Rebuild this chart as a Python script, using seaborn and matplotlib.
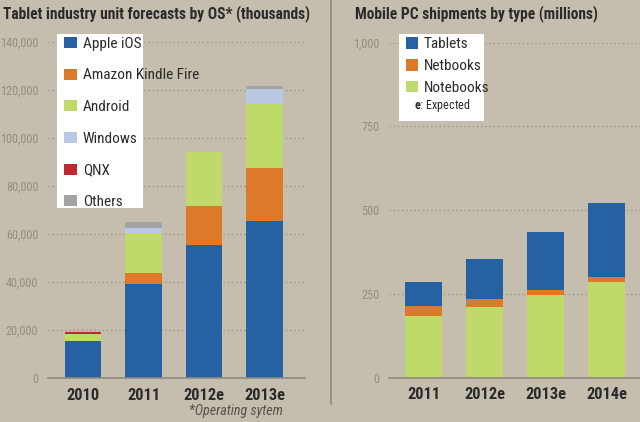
import matplotlib
matplotlib.use("Agg")
import matplotlib.pyplot as plt
import seaborn as sns
import numpy as np
from matplotlib.patches import Patch, Rectangle
from matplotlib.lines import Line2D
from matplotlib.ticker import FuncFormatter, FixedLocator
from matplotlib.font_manager import FontProperties, findfont
from matplotlib.textpath import TextPath

# ---------------- data ----------------
os_years = ["2010", "2011", "2012e", "2013e"]
os_series = ["Apple iOS", "Amazon Kindle Fire", "Android", "Windows", "QNX", "Others"]
apple_ios = [15400, 39000, 55400, 65300]
kindle_fire = [0, 4600, 16400, 22100]
android = [2900, 16800, 22400, 26900]
windows = [0, 2100, 0, 6000]
qnx = [800, 0, 0, 0]
others = [0, 2500, 0, 1500]
os_ticks = [0, 20000, 40000, 60000, 80000, 100000, 120000, 140000]

pc_years = ["2011", "2012e", "2013e", "2014e"]
pc_series = ["Tablets", "Netbooks", "Notebooks"]
notebooks = [183, 211, 247, 285]
netbooks = [30, 25, 15, 15]
tablets = [72, 117, 172, 222]
pc_ticks = [0, 250, 500, 750, 1000]

# ---------------- style ----------------
BG = "#c5beae"
BLUE = "#2561a3"
ORANGE = "#dc7a2a"
GREEN = "#bfd96b"
WINBLUE = "#b9c9e3"
RED = "#c1272d"
GRAY = "#a3a3a3"
TICKGRAY = "#928d83"
GRIDGRAY = "#9c968a"
DARK = "#2b2b2b"

sns.set_style("white")

FAM = "DejaVu Sans"
for cand in ["Liberation Sans Narrow", "Roboto Condensed", "DejaVu Sans Condensed",
             "Open Sans Condensed", "Roboto"]:
    try:
        findfont(FontProperties(family=cand), fallback_to_default=False)
        FAM = cand
        break
    except Exception:
        pass

plt.rcParams["font.family"] = [FAM, "DejaVu Sans"]
plt.rcParams["mathtext.fontset"] = "custom"
plt.rcParams["mathtext.bf"] = f"{FAM}:bold"
plt.rcParams["mathtext.rm"] = FAM

W, H = 640, 422
DPI = 100
BOOST = 1.08


def fit(s, target_px, weight="normal", style="normal"):
    fp = FontProperties(family=FAM, weight=weight, style=style, size=10)
    w = TextPath((0, 0), s, prop=fp).get_extents().width
    return 10 * target_px / (w * DPI / 72)


fig = plt.figure(figsize=(W / DPI, H / DPI), dpi=DPI, facecolor=BG)


def fx(px):
    return px / W


def fy(py):
    return 1 - py / H


def stacked(ax, cats, layers, colors):
    cum = np.zeros(len(cats))
    tops = []
    for vals in layers:
        cum = cum + np.array(vals, dtype=float)
        tops.append(cum.copy())
    for top, col in reversed(list(zip(tops, colors))):
        sns.barplot(x=cats, y=top, color=col, saturation=1, width=0.6,
                    linewidth=0, ax=ax, order=cats)


FS_YT = fit("140,000", 37)
FS_XT = fit("2010", 29.5, weight="bold") * BOOST


def style_axes(ax, ticks, xlim):
    ax.set_facecolor(BG)
    ax.set_ylim(ticks[0], ticks[-1])
    ax.set_xlim(*xlim)
    ax.yaxis.set_major_locator(FixedLocator(ticks))
    ax.yaxis.set_major_formatter(FuncFormatter(lambda v, p: f"{int(v):,}"))
    ax.grid(axis="y", linestyle=(0, (1, 2)), color=GRIDGRAY, linewidth=1)
    ax.grid(axis="x", visible=False)
    ax.set_axisbelow(True)
    for s in ["top", "right", "left"]:
        ax.spines[s].set_visible(False)
    ax.spines["bottom"].set_color("#8e897f")
    ax.spines["bottom"].set_linewidth(1.2)
    ax.tick_params(axis="y", length=0, pad=7, labelsize=FS_YT, labelcolor=TICKGRAY)
    ax.tick_params(axis="x", length=0, pad=7, labelsize=FS_XT, labelcolor=DARK)
    for t in ax.get_xticklabels():
        t.set_fontweight("bold")
    ax.set_xlabel("")
    ax.set_ylabel("")


def make_legend(handles, labels, fs, x_handle, y_first, pitch, hw, hh, text_x):
    fs_px = fs * DPI / 72
    rowh = max(hh, 0.88 * fs_px)
    leg = fig.legend(handles, labels, loc="upper left",
                     bbox_to_anchor=(fx(x_handle), fy(y_first - rowh / 2)),
                     bbox_transform=fig.transFigure, frameon=False,
                     fontsize=fs, handlelength=hw / fs_px, handleheight=hh / fs_px,
                     handletextpad=(text_x - x_handle - hw) / fs_px,
                     labelspacing=(pitch - rowh) / fs_px, borderpad=0,
                     borderaxespad=0)
    for t in leg.get_texts():
        t.set_color(DARK)
    return leg


# ---------------- left chart ----------------
axL = fig.add_axes([fx(48), fy(378), fx(305) - fx(48), fy(42) - fy(378)])
stacked(axL, os_years, [apple_ios, kindle_fire, android, windows, qnx, others],
        [BLUE, ORANGE, GREEN, WINBLUE, RED, GRAY])
style_axes(axL, os_ticks, (-0.58, 3.67))

fig.add_artist(Rectangle((fx(57), fy(208)), fx(143) - fx(57), fy(34) - fy(208),
                         transform=fig.transFigure, facecolor="white",
                         edgecolor="none", zorder=2))
FS_LEG = fit("Amazon Kindle Fire", 107) * BOOST
handlesL = [Patch(facecolor=c, edgecolor="none") for c in
            [BLUE, ORANGE, GREEN, WINBLUE, RED, GRAY]]
make_legend(handlesL, os_series, FS_LEG, 64.3, 43.5, 31.1, 12.5, 11.5, 82.7)

TITLE_L = "Tablet industry unit forecasts by OS* (thousands)"
fig.text(fx(3), fy(14), TITLE_L, fontsize=fit(TITLE_L, 284, "bold") * BOOST,
         fontweight="bold", color=DARK, va="center", ha="left")
fig.text(fx(236), fy(411), "*Operating sytem",
         fontsize=fit("*Operating sytem", 89, style="italic") * 1.04, style="italic",
         color="#55524c", va="center", ha="center")

# ---------------- right chart ----------------
axR = fig.add_axes([fx(389), fy(377.7), 1 - fx(389), fy(42.7) - fy(377.7)])
stacked(axR, pc_years, [notebooks, netbooks, tablets], [GREEN, ORANGE, BLUE])
style_axes(axR, pc_ticks, (-0.57, 3.55))

fig.add_artist(Rectangle((fx(398.7), fy(121)), fx(484) - fx(398.7), fy(34) - fy(121),
                         transform=fig.transFigure, facecolor="white",
                         edgecolor="none", zorder=2))
FS_LEG_R = fit("Notebooks", 59) * BOOST
handlesR = [Patch(facecolor=c, edgecolor="none") for c in [BLUE, ORANGE, GREEN]]
make_legend(handlesR, pc_series, FS_LEG_R, 405.7, 44, 21.2, 12, 12, 424)
fig.text(fx(414), fy(106), r"$\mathbf{e}$: Expected",
         fontsize=fit("e: Expected", 50) * BOOST, color=DARK, va="center", ha="left",
         zorder=6)

TITLE_R = "Mobile PC shipments by type (millions)"
fig.text(fx(355), fy(14), TITLE_R, fontsize=fit(TITLE_R, 225, "bold") * BOOST,
         fontweight="bold", color=DARK, va="center", ha="left")

# divider
fig.add_artist(Line2D([fx(331), fx(331)], [fy(0), fy(404)],
                      transform=fig.transFigure, color="#8e897f", linewidth=1.2))

fig.savefig("out.png", dpi=DPI, facecolor=BG)
